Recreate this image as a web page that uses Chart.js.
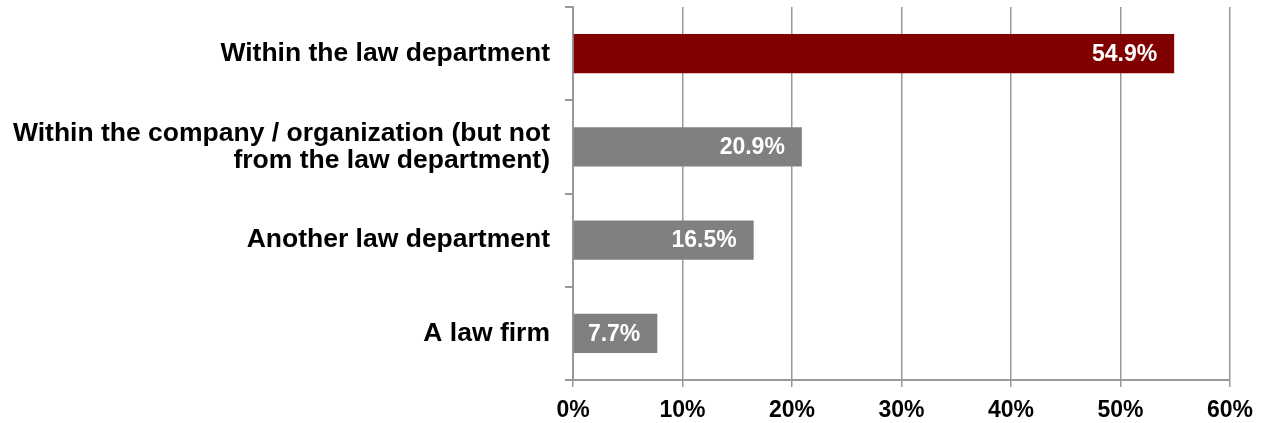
<!DOCTYPE html>
<html>
<head>
<meta charset="utf-8">
<script src="https://cdn.jsdelivr.net/npm/chart.js@4/dist/chart.umd.min.js"></script>
<style>
  body { margin: 0; background: #fff; }
  #wrap { width: 1267px; height: 423px; }
</style>
</head>
<body>
<div id="wrap"><canvas id="chart"></canvas></div>
<script>
let categories = [
    'Within the law department',
    ['Within the company / organization (but not', 'from the law department)'],
    'Another law department',
    'A law firm'
];
let shares = [54.9, 20.9, 16.5, 7.7];
let barColors = ['#800000', '#808080', '#808080', '#808080'];
let tickLabels = ['0%', '10%', '20%', '30%', '40%', '50%', '60%'];

let gridGray = '#999999';

// white value text at the end of each bar
let valueLabels = {
    id: 'valueLabels',
    afterDatasetsDraw: function (chart) {
        let ctx = chart.ctx;
        let meta = chart.getDatasetMeta(0);
        ctx.save();
        ctx.fillStyle = '#ffffff';
        ctx.font = 'bold 23px "Liberation Sans", Arial, sans-serif';
        ctx.textAlign = 'right';
        ctx.textBaseline = 'middle';
        meta.data.forEach(function (bar, i) {
            ctx.fillText(shares[i].toFixed(1) + '%', bar.x - 17, bar.y + 1);
        });
        ctx.restore();
    }
};

let createChart = function () {
    const ctx = document.getElementById('chart');

    new Chart(ctx, {
        type: 'bar',
        data: {
            labels: categories,
            datasets: [{
                data: shares,
                backgroundColor: barColors,
                borderWidth: 0,
                barPercentage: 0.7,
                categoryPercentage: 0.6
            }]
        },
        options: {
            indexAxis: 'y',
            responsive: true,
            maintainAspectRatio: false,
            animation: false,
            layout: { padding: { top: 7, right: 37, bottom: 0, left: 0 } },
            plugins: {
                legend: { display: false },
                tooltip: { enabled: false }
            },
            scales: {
                x: {
                    min: 0,
                    max: 60,
                    afterFit: function (scale) { scale.height = 43; },
                    ticks: {
                        stepSize: 10,
                        color: '#000',
                        padding: 10,
                        font: { family: '"Liberation Sans", Arial, sans-serif', size: 23, weight: 'bold' },
                        callback: function (v, i) { return tickLabels[i]; }
                    },
                    grid: { color: gridGray, lineWidth: 1.5, tickLength: 7 },
                    border: { color: gridGray, width: 2 }
                },
                y: {
                    afterFit: function (scale) {
                        scale.width = 573;
                        scale.paddingTop = 0;
                        scale.paddingBottom = 0;
                    },
                    ticks: {
                        color: '#000',
                        padding: 15,
                        font: { family: '"Liberation Sans", Arial, sans-serif', size: 26.5, weight: 'bold', lineHeight: 1.02 }
                    },
                    grid: { drawOnChartArea: false, color: gridGray, lineWidth: 2, tickLength: 8 },
                    border: { color: gridGray, width: 2 }
                }
            }
        },
        plugins: [valueLabels]
    });
}

createChart();
</script>
</body>
</html>
